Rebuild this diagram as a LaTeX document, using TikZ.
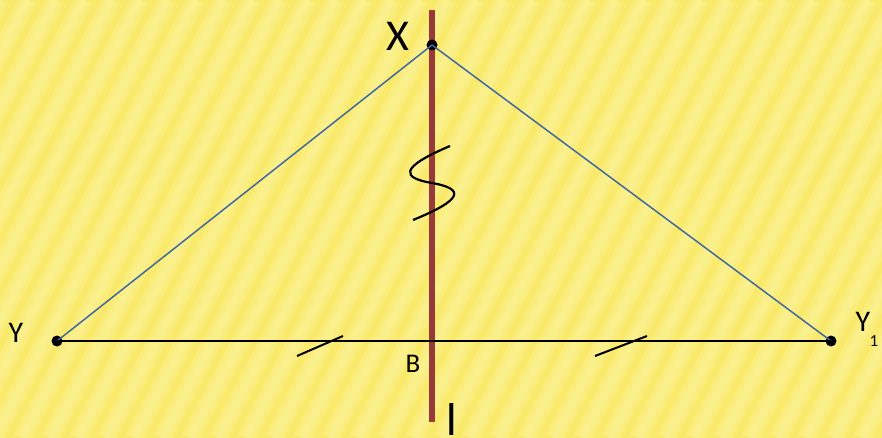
\documentclass[tikz,border=0pt]{standalone}
\usepackage{fontspec}
\setmainfont{Carlito}
\definecolor{bgbase}{RGB}{250,234,108}
\definecolor{bgstripe}{RGB}{253,246,160}
\definecolor{axisred}{RGB}{152,58,58}
\definecolor{sideblue}{RGB}{66,104,160}
\tikzset{
  pt/.style={circle,fill=black,inner sep=0pt,minimum size=11pt},
  lbl/.style={inner sep=0pt,font=\fontsize{30}{30}\selectfont},
  side/.style={draw=sideblue,line width=1.5pt},
  base/.style={draw=black,line width=1.8pt},
  tick/.style={draw=black,line width=2pt},
}
\begin{document}
\begin{tikzpicture}[x=1pt,y=-1pt]
\useasboundingbox (0,0) rectangle (882,438);
\fill[bgbase] (0,0) rectangle (882,438);
\begin{scope}
\clip (0,0) rectangle (882,438);
\foreach \i in {-10,...,50}{
  \draw[bgstripe,opacity=0.3,line width=18pt] (\i*28-230,438) -- (\i*28,0);
  \draw[bgstripe,opacity=0.3,line width=11pt] (\i*28-230,438) -- (\i*28,0);
  \draw[bgstripe,opacity=0.3,line width=5pt] (\i*28-230,438) -- (\i*28,0);
}
\end{scope}
% axis
\coordinate (atop) at (432,10);
\coordinate (abot) at (432,422);
\draw[axisred,line width=6pt] (atop) -- (abot);
% points
\node[pt] (X) at (432,45) {};
\node[pt] (Y) at (57,341) {};
\node[pt] (Y1) at (831,341) {};
% sides
\draw[side] (X.center) -- (Y.center);
\draw[side] (X.center) -- (Y1.center);
\draw[base] (Y.center) -- (Y1.center);
% ticks
\coordinate (t1a) at (297,356); \coordinate (t1b) at (343,336);
\coordinate (t2a) at (595,356); \coordinate (t2b) at (647,336);
\draw[tick] (t1a) -- (t1b);
\draw[tick] (t2a) -- (t2b);
% S mark
\coordinate (s0) at (450,146);
\coordinate (s1) at (432,183);
\coordinate (s2) at (413,220);
\draw[black,line width=2.2pt] (s0) .. controls (398,168) and (402,178) .. (s1)
  .. controls (466,189) and (462,200) .. (s2);
% labels
\node[lbl,font=\fontsize{44}{44}\selectfont] (Xl) at (398,36) {X};
\node[lbl] (Yl) at (16,333) {Y};
\node[lbl] (Y1l) at (863,322) {Y};
\node[inner sep=0pt,font=\fontsize{17}{17}\selectfont] (Y1s) at (874,341) {1};
\node[inner sep=0pt,font=\fontsize{27}{27}\selectfont] (Bl) at (413,364) {B};
\node[inner sep=0pt,anchor=north,font=\fontsize{46}{46}\selectfont] (ll) at (451.5,403) {l};
\end{tikzpicture}
\end{document}
